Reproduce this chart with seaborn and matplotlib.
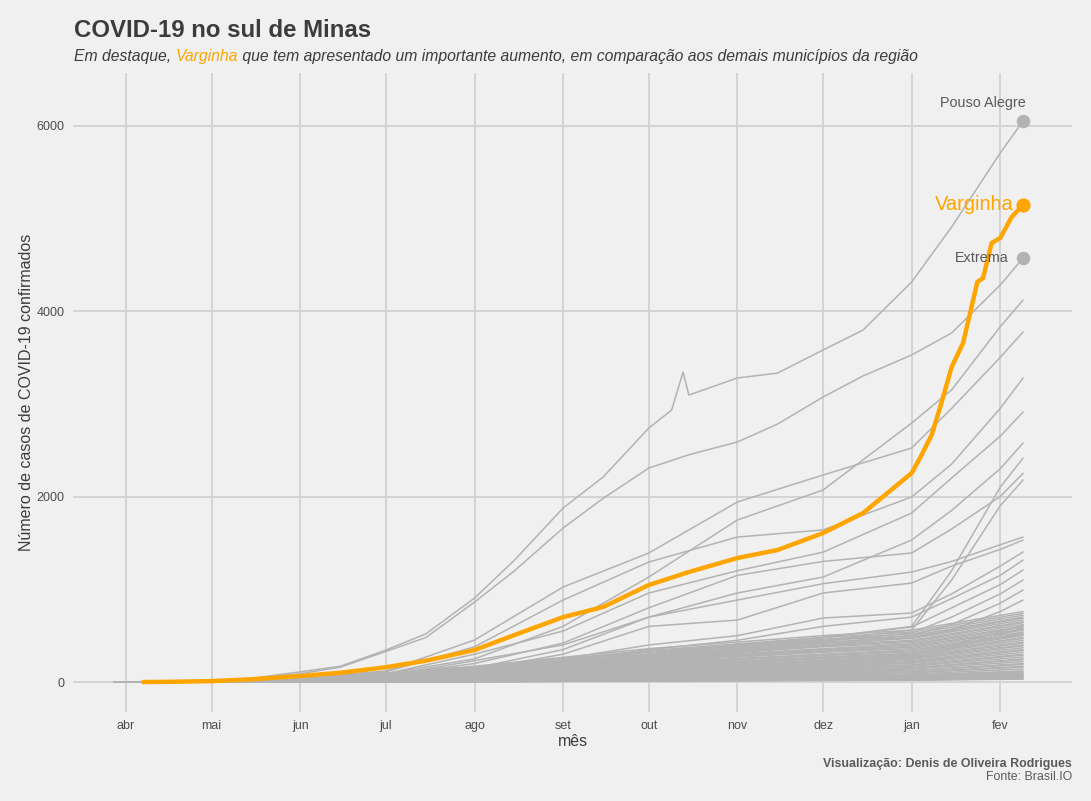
import matplotlib
matplotlib.use("Agg")
import matplotlib.pyplot as plt
import numpy as np
import pandas as pd
import seaborn as sns

# ---------------- data ----------------
month_ticks = ["2020-04-01", "2020-05-01", "2020-06-01", "2020-07-01", "2020-08-01",
               "2020-09-01", "2020-10-01", "2020-11-01", "2020-12-01", "2021-01-01",
               "2021-02-01"]
month_labels = ["abr", "mai", "jun", "jul", "ago", "set", "out", "nov", "dez", "jan", "fev"]

varginha_dates = ["2020-04-07", "2020-04-15", "2020-05-01", "2020-05-15", "2020-06-01",
                  "2020-06-15", "2020-07-01", "2020-07-15", "2020-08-01", "2020-08-15",
                  "2020-09-01", "2020-09-15", "2020-10-01", "2020-10-15", "2020-11-01",
                  "2020-11-15", "2020-12-01", "2020-12-15", "2021-01-01", "2021-01-04",
                  "2021-01-08", "2021-01-11", "2021-01-15", "2021-01-19", "2021-01-24",
                  "2021-01-26", "2021-01-29", "2021-02-01", "2021-02-05", "2021-02-09"]
varginha = [0, 2, 10, 30, 65, 100, 160, 230, 345, 507, 700, 809, 1046, 1186, 1337,
            1423, 1606, 1822, 2253, 2420, 2663, 2965, 3396, 3655, 4313, 4356, 4733,
            4787, 5013, 5143]

pouso_dates = ["2020-03-28", "2020-04-15", "2020-05-01", "2020-05-15", "2020-06-01",
               "2020-06-15", "2020-07-01", "2020-07-15", "2020-08-01", "2020-08-15",
               "2020-09-01", "2020-09-15", "2020-10-01", "2020-10-09", "2020-10-13",
               "2020-10-15", "2020-11-01", "2020-11-15", "2020-12-01", "2020-12-15",
               "2021-01-01", "2021-01-15", "2021-02-01", "2021-02-09"]
pouso_alegre = [0, 5, 15, 40, 110, 170, 345, 520, 905, 1315, 1876, 2210, 2738, 2933,
                3342, 3094, 3278, 3330, 3580, 3795, 4313, 4906, 5703, 6050]

extrema_dates = ["2020-03-28", "2020-04-15", "2020-05-01", "2020-05-15", "2020-06-01",
                 "2020-06-15", "2020-07-01", "2020-07-15", "2020-08-01", "2020-08-15",
                 "2020-09-01", "2020-09-15", "2020-10-01", "2020-10-15", "2020-11-01",
                 "2020-11-15", "2020-12-01", "2020-12-15", "2021-01-01", "2021-01-15",
                 "2021-02-01", "2021-02-09"]
extrema = [0, 3, 10, 30, 90, 160, 330, 480, 862, 1200, 1660, 1980, 2307, 2450, 2588,
           2780, 3073, 3300, 3526, 3763, 4280, 4571]

# other larger municipalities
upper_dates = ["2020-03-28", "2020-05-01", "2020-06-01", "2020-07-01", "2020-08-01",
               "2020-09-01", "2020-10-01", "2020-11-01", "2020-12-01", "2021-01-01",
               "2021-01-15", "2021-02-01", "2021-02-09"]
upper_lines = [
    [0, 5, 30, 90, 250, 600, 1132, 1747, 2070, 2792, 3150, 3830, 4118],
    [0, 5, 40, 120, 453, 1024, 1391, 1941, 2232, 2523, 2950, 3500, 3774],
    [0, 4, 35, 110, 380, 884, 1294, 1563, 1640, 1995, 2350, 2950, 3278],
    [0, 3, 25, 90, 300, 550, 960, 1200, 1400, 1822, 2200, 2650, 2911],
    [0, 3, 20, 70, 230, 400, 700, 960, 1132, 1531, 1850, 2300, 2577],
    [0, 2, 15, 50, 150, 250, 300, 400, 480, 600, 1200, 2100, 2415],
    [0, 3, 20, 70, 200, 420, 800, 1150, 1300, 1391, 1650, 2000, 2250],
    [0, 2, 12, 40, 120, 220, 280, 380, 450, 560, 1100, 1900, 2178],
    [0, 2, 15, 50, 150, 350, 700, 884, 1060, 1186, 1300, 1480, 1563],
    [0, 2, 12, 45, 130, 300, 600, 668, 960, 1067, 1250, 1430, 1530],
    [0, 2, 10, 40, 110, 250, 400, 500, 690, 744, 950, 1250, 1402],
    [0, 1, 10, 35, 100, 220, 350, 450, 600, 700, 900, 1150, 1315],
    [0, 1, 8, 30, 90, 180, 300, 400, 480, 593, 800, 1050, 1208],
    [0, 1, 8, 30, 80, 170, 280, 360, 440, 528, 700, 950, 1100],
    [0, 1, 7, 25, 75, 160, 260, 340, 420, 500, 620, 850, 992],
    [0, 1, 6, 22, 70, 150, 240, 320, 400, 480, 560, 760, 884],
]

# smaller municipalities
lower_dates = ["2020-03-28", "2020-06-01", "2020-08-01", "2020-10-01", "2020-12-01",
               "2021-01-01", "2021-02-09"]
lower_lines = [
    [0, 25, 170, 360, 500, 560, 760], [0, 20, 160, 340, 480, 540, 740],
    [0, 22, 150, 330, 460, 520, 720], [0, 18, 140, 320, 450, 500, 700],
    [0, 20, 135, 300, 430, 480, 690], [0, 15, 130, 290, 420, 470, 670],
    [0, 18, 120, 280, 400, 450, 650], [0, 15, 115, 270, 390, 440, 640],
    [0, 14, 110, 260, 380, 425, 620], [0, 10, 60, 150, 230, 280, 610],
    [0, 12, 100, 250, 360, 410, 600], [0, 14, 105, 240, 350, 400, 590],
    [0, 8, 50, 130, 210, 250, 580], [0, 12, 95, 230, 340, 385, 570],
    [0, 10, 90, 225, 330, 375, 560], [0, 12, 85, 215, 320, 360, 540],
    [0, 12, 80, 180, 260, 300, 530], [0, 10, 80, 205, 300, 345, 520],
    [0, 9, 78, 200, 295, 340, 510], [0, 10, 75, 190, 285, 325, 500],
    [0, 8, 70, 180, 270, 310, 480], [0, 9, 68, 175, 260, 300, 470],
    [0, 8, 65, 165, 250, 290, 450], [0, 7, 60, 155, 235, 275, 430],
    [0, 8, 58, 150, 230, 265, 420], [0, 6, 55, 145, 220, 255, 400],
    [0, 7, 52, 140, 210, 245, 390], [0, 6, 50, 130, 200, 230, 370],
    [0, 5, 45, 125, 190, 220, 350], [0, 6, 44, 120, 180, 210, 340],
    [0, 5, 40, 110, 170, 200, 320], [0, 4, 38, 105, 160, 185, 300],
    [0, 5, 36, 100, 155, 180, 290], [0, 4, 33, 95, 145, 170, 270],
    [0, 3, 30, 88, 135, 155, 250], [0, 4, 28, 85, 130, 150, 240],
    [0, 3, 26, 78, 120, 140, 220], [0, 3, 24, 70, 110, 125, 200],
    [0, 2, 22, 66, 105, 120, 190], [0, 2, 20, 60, 95, 108, 170],
    [0, 2, 18, 55, 88, 100, 160], [0, 2, 16, 48, 78, 88, 140],
    [0, 1, 14, 42, 66, 76, 120], [0, 1, 12, 38, 60, 70, 110],
    [0, 1, 11, 34, 55, 63, 100], [0, 1, 10, 30, 50, 56, 90],
    [0, 1, 8, 27, 44, 50, 80], [0, 1, 7, 23, 38, 44, 70],
    [0, 1, 6, 20, 33, 38, 60], [0, 0, 5, 16, 27, 31, 50],
    [0, 0, 4, 12, 20, 23, 36], [0, 0, 4, 13, 22, 25, 40],
    [0, 0, 3, 10, 17, 20, 32],
]

# ---------------- build long tables ----------------
frames = []
frames.append(pd.DataFrame({"data": pd.to_datetime(pouso_dates), "casos": pouso_alegre,
                            "municipio": "Pouso Alegre"}))
frames.append(pd.DataFrame({"data": pd.to_datetime(extrema_dates), "casos": extrema,
                            "municipio": "Extrema"}))
for i, vals in enumerate(upper_lines):
    frames.append(pd.DataFrame({"data": pd.to_datetime(upper_dates), "casos": vals,
                                "municipio": f"U{i}"}))
for i, vals in enumerate(lower_lines):
    frames.append(pd.DataFrame({"data": pd.to_datetime(lower_dates), "casos": vals,
                                "municipio": f"L{i}"}))
grey_df = pd.concat(frames, ignore_index=True)
varg_df = pd.DataFrame({"data": pd.to_datetime(varginha_dates), "casos": varginha,
                        "municipio": "Varginha"})

# ---------------- style ----------------
BG = "#F0F0F0"
GREY = "#B3B3B3"
ORANGE = "#FFA500"
DARK = "#3C3C3C"
GRID = "#D2D2D2"

sns.set_style("white")
plt.rcParams['font.family'] = ['Liberation Sans', 'DejaVu Sans']

W, H = 1091, 801
fig = plt.figure(figsize=(W / 100, H / 100), dpi=100, facecolor=BG)
L, R, T, B = 73, 1072, 73, 712
ax = fig.add_axes([L / W, 1 - B / H, (R - L) / W, (B - T) / H])
ax.set_facecolor(BG)

sns.lineplot(data=grey_df, x="data", y="casos", units="municipio", estimator=None,
             color=GREY, lw=1.1, ax=ax, legend=False)
sns.lineplot(data=varg_df, x="data", y="casos", color=ORANGE, lw=3.2, ax=ax,
             legend=False)

ends_grey = pd.DataFrame({"data": pd.to_datetime([pouso_dates[-1], extrema_dates[-1]]),
                          "casos": [pouso_alegre[-1], extrema[-1]]})
sns.scatterplot(data=ends_grey, x="data", y="casos", color=GREY, s=95, linewidth=0,
                ax=ax, legend=False, zorder=5)
sns.scatterplot(x=[pd.to_datetime(varginha_dates[-1])], y=[varginha[-1]], color=ORANGE,
                s=105, linewidth=0, ax=ax, legend=False, zorder=6)

ax.annotate("Pouso Alegre", xy=(pd.to_datetime(pouso_dates[-1]), pouso_alegre[-1]),
            xytext=(-40, 18), textcoords="offset pixels", ha="center", va="center",
            fontsize=10.4, color="#5A5A5A")
ax.annotate("Varginha", xy=(pd.to_datetime(varginha_dates[-1]), varginha[-1]),
            xytext=(-9, 0), textcoords="offset pixels", ha="right", va="center",
            fontsize=14.4, color=ORANGE)
ax.annotate("Extrema", xy=(pd.to_datetime(extrema_dates[-1]), extrema[-1]),
            xytext=(-14, 0), textcoords="offset pixels", ha="right", va="center",
            fontsize=10.4, color="#5A5A5A")

ax.set_xlim(pd.Timestamp("2020-03-13 11:00"), pd.Timestamp("2021-02-26 03:00"))
ax.set_ylim(-323, 6566)
ax.set_xticks(pd.to_datetime(month_ticks))
ax.set_xticklabels(month_labels)
ax.set_yticks([0, 2000, 4000, 6000])
ax.set_yticklabels(["0", "2000", "4000", "6000"])
ax.grid(True, color=GRID, lw=1.3)
ax.set_axisbelow(True)
for s in ax.spines.values():
    s.set_visible(False)
ax.tick_params(length=0, labelsize=9, colors="#4D4D4D", pad=6)

ax.set_xlabel("mês", fontsize=11.5, color=DARK)
ax.xaxis.label.set_va("center")
ax.xaxis.set_label_coords(0.5, -(742 - B) / (B - T))
ax.set_ylabel("Número de casos de COVID-19 confirmados", fontsize=11.5, color=DARK)
ax.yaxis.label.set_va("center")
ax.yaxis.set_label_coords(-(L - 27) / (R - L), 0.5)

# title and subtitle
fig.text(74 / W, 1 - 37 / H, "COVID-19 no sul de Minas", fontsize=17.3, weight="bold",
         color=DARK, ha="left", va="baseline")
fig.canvas.draw()
renderer = fig.canvas.get_renderer()
pieces = [("Em destaque, ", DARK), ("Varginha", ORANGE),
          (" que tem apresentado um importante aumento, em comparação aos demais municípios da região", DARK)]
xpos = 74
for txt, col in pieces:
    t = fig.text(xpos / W, 1 - 61.5 / H, txt, fontsize=11.35, style="italic", color=col,
                 ha="left", va="baseline")
    bb = t.get_window_extent(renderer)
    xpos += bb.width

fig.text(R / W, 1 - 767 / H, "Visualização: Denis de Oliveira Rodrigues", fontsize=8.9,
         weight="bold", color="#5A5A5A", ha="right", va="baseline")
fig.text(R / W, 1 - 780 / H, "Fonte: Brasil.IO", fontsize=8.9, color="#5A5A5A",
         ha="right", va="baseline")

fig.savefig("out.png", dpi=100, facecolor=BG)
